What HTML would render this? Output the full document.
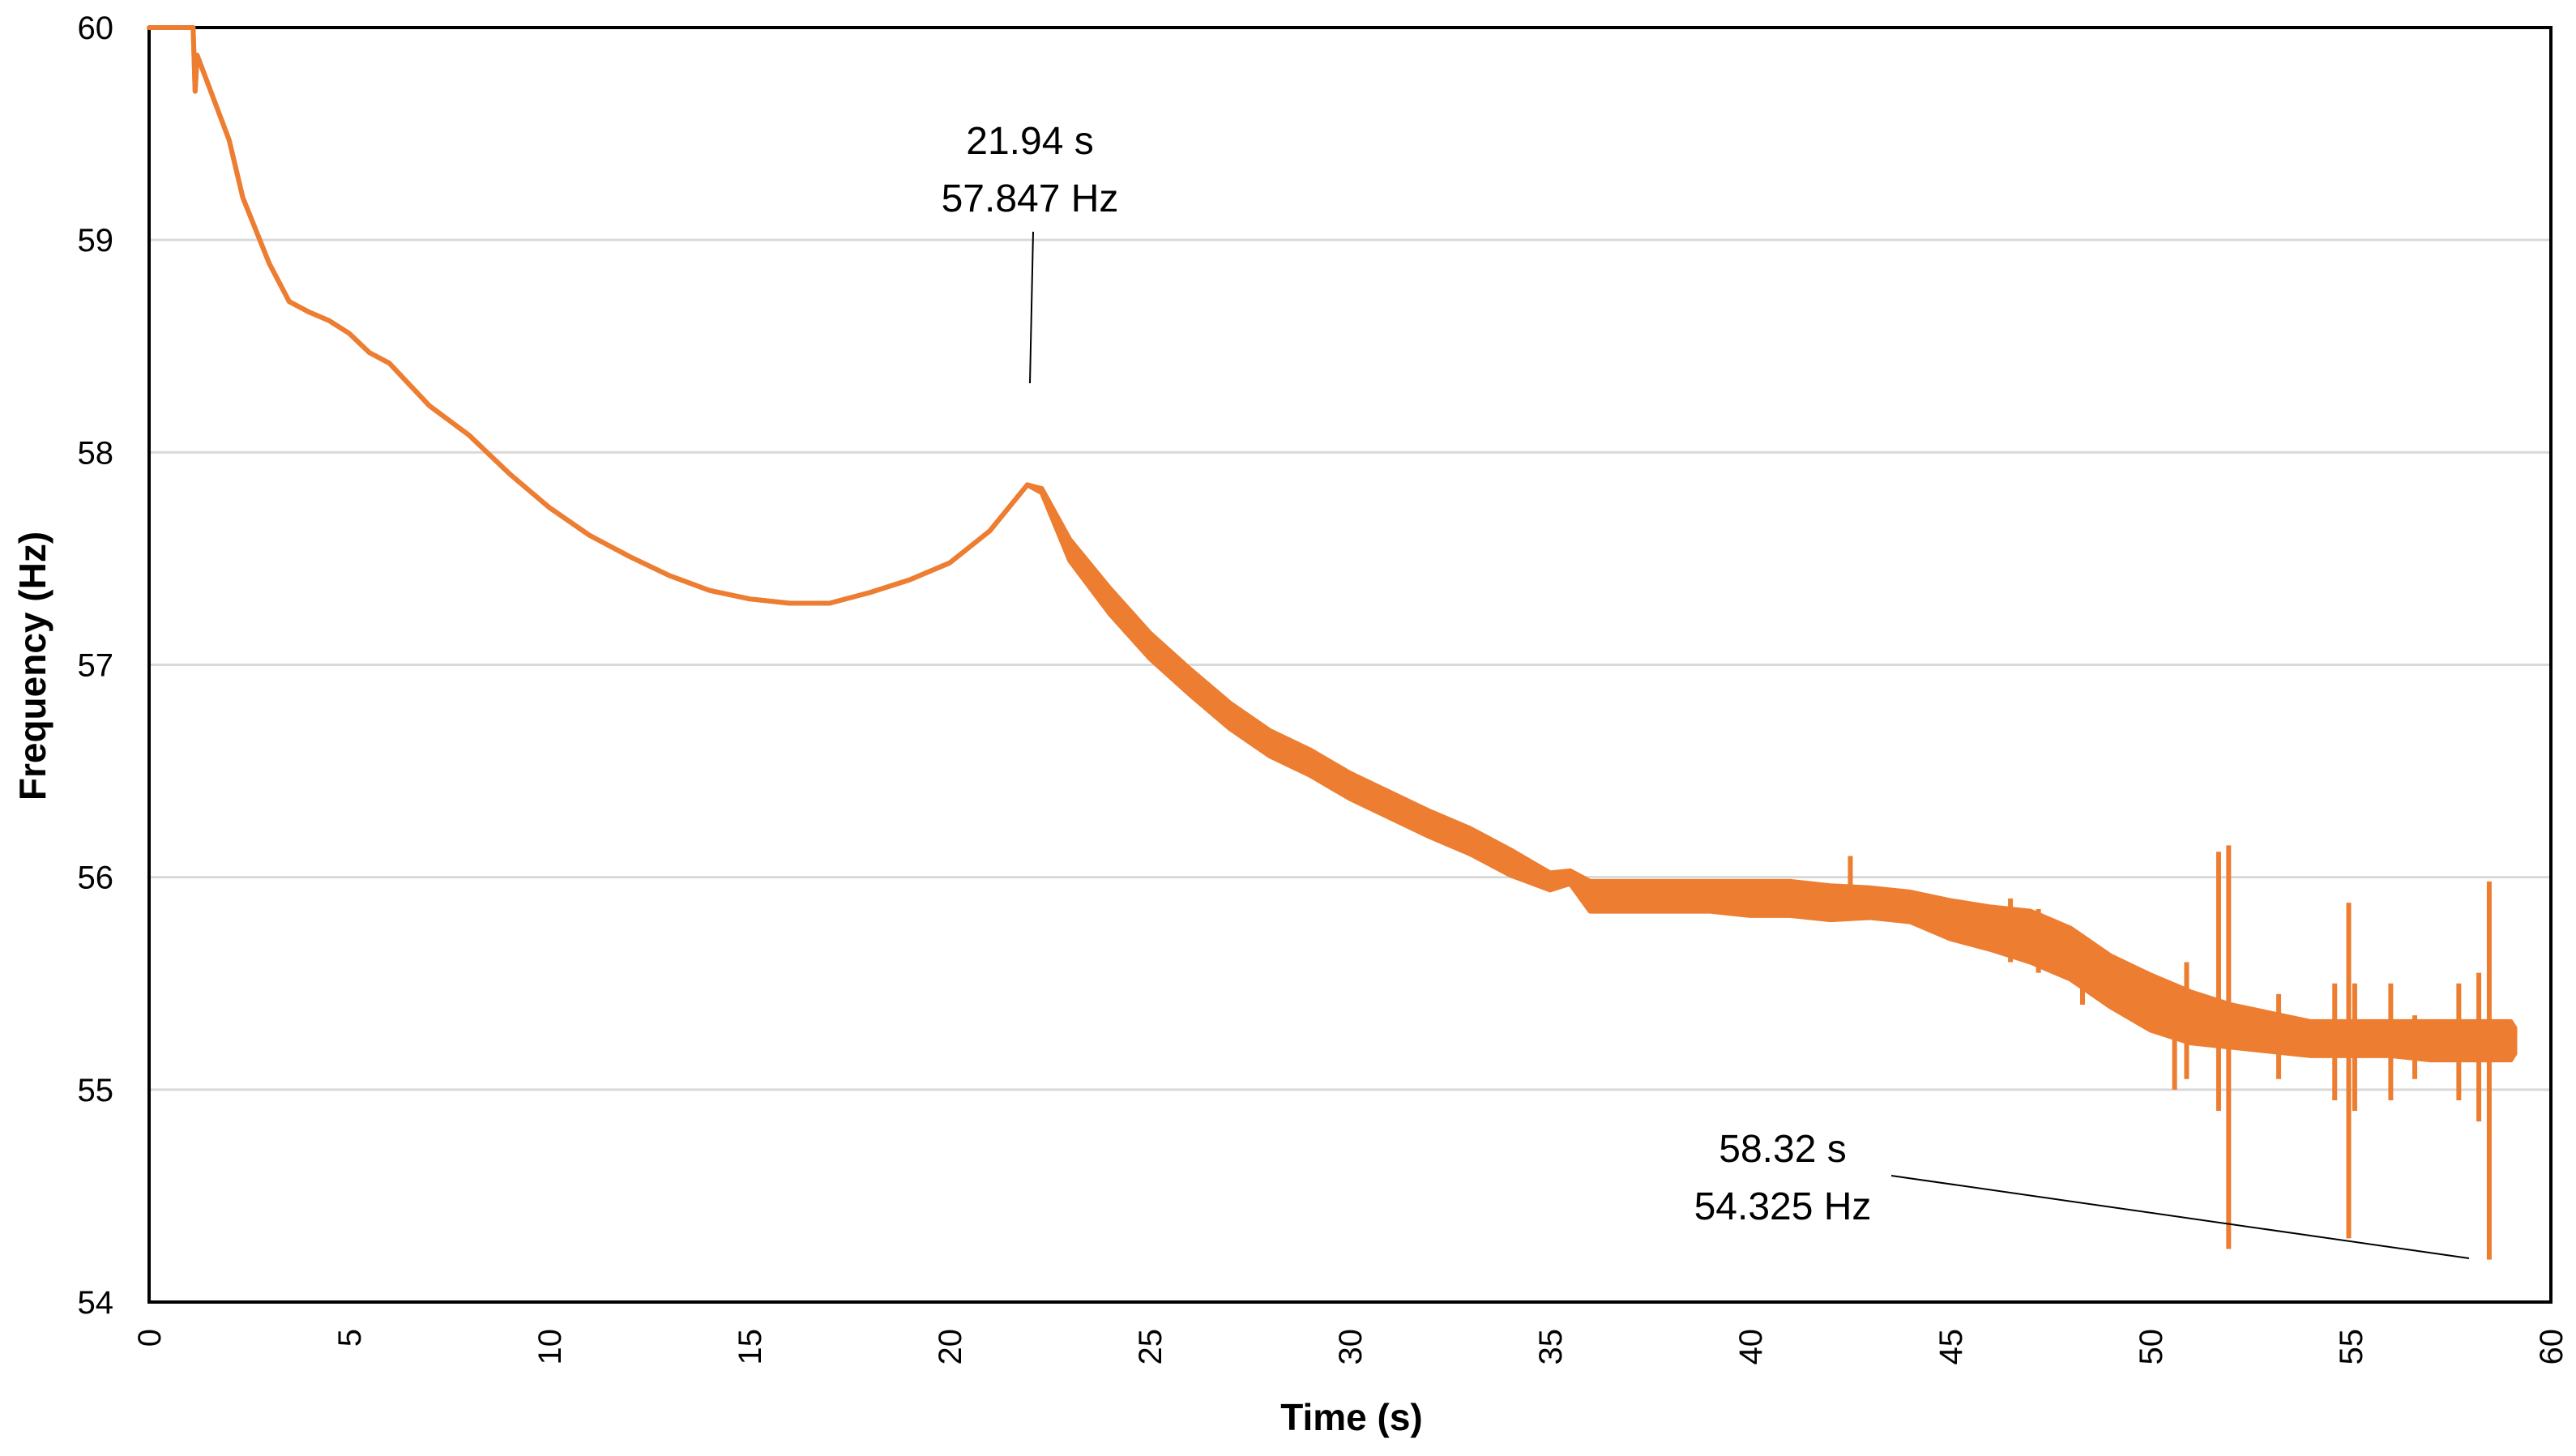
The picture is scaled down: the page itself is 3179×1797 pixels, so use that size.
<!DOCTYPE html>
<html><head><meta charset="utf-8"><style>
html,body{margin:0;padding:0;background:#fff;}
svg{display:block;font-family:"Liberation Sans",Arial,sans-serif;}
</style></head><body>
<svg id="chart" width="3179" height="1797" viewBox="0 0 3179 1797">
<g id="grid"></g>
<rect x="184" y="34" width="2964" height="1573" fill="none" stroke="#000" stroke-width="4"/>
<g id="series"></g>
<g id="yticks"></g>
<g id="xticks"></g>
<text x="1668" y="1765" font-size="46" font-weight="bold" text-anchor="middle">Time (s)</text>
<text transform="translate(56,822) rotate(-90)" font-size="46" font-weight="bold" text-anchor="middle">Frequency (Hz)</text>
<g>
<text x="1271" y="190" font-size="48" text-anchor="middle">21.94 s</text>
<text x="1271" y="261" font-size="48" text-anchor="middle">57.847 Hz</text>
<line x1="1275" y1="286" x2="1271" y2="473" stroke="#000" stroke-width="2"/>
</g>
<g>
<text x="2200" y="1434" font-size="48" text-anchor="middle">58.32 s</text>
<text x="2200" y="1505" font-size="48" text-anchor="middle">54.325 Hz</text>
<line x1="2334" y1="1451" x2="3047" y2="1553" stroke="#000" stroke-width="2"/>
</g>
</svg>
<script>
const yTickLabels = [54,55,56,57,58,59,60];
const xTickLabels = [0,5,10,15,20,25,30,35,40,45,50,55,60];
const times = [0,1.1,1.15,1.2,2,2.34,3,3.5,4,4.5,5,5.5,6,7,8,9,10,11,12,13,14,15,16,17,18,19,20,21,21.94,22.3,23,24,25,26,27,28,29,30,31,32,33,34,35,35.5,36,37,38,39,40,41,42,43,44,45,46,47,48,49,50,51,52,53,54,55,56,57,58,59,59.1];
const freqMid = [60,60,59.7,59.87,59.47,59.2,58.89,58.71,58.66,58.62,58.56,58.47,58.42,58.22,58.08,57.9,57.74,57.61,57.51,57.42,57.35,57.31,57.29,57.29,57.34,57.4,57.48,57.63,57.847,57.82,57.54,57.3,57.09,56.92,56.76,56.63,56.54,56.43,56.34,56.25,56.17,56.07,55.98,56.0,55.91,55.91,55.91,55.91,55.9,55.9,55.88,55.88,55.86,55.8,55.76,55.72,55.64,55.51,55.41,55.34,55.3,55.27,55.24,55.24,55.24,55.23,55.23,55.23,55.23];
const bandHalf = [0,0,0,0,0,0,0,0,0,0,0,0,0,0,0,0,0,0,0,0,0,0,0,0,0,0,0,0,0,0.01,0.05,0.06,0.06,0.06,0.06,0.06,0.06,0.06,0.06,0.06,0.06,0.06,0.04,0.03,0.07,0.07,0.07,0.07,0.08,0.08,0.08,0.07,0.07,0.09,0.1,0.12,0.12,0.12,0.13,0.12,0.1,0.09,0.08,0.08,0.08,0.09,0.09,0.09,0.06];
const spikeTimes = [42.5,46.5,47.2,48.3,50.6,50.9,51.7,51.95,53.2,54.6,54.95,55.1,56.0,56.6,57.7,58.2,58.46];
const spikeLow = [55.85,55.6,55.55,55.4,55.0,55.05,54.9,54.25,55.05,54.95,54.3,54.9,54.95,55.05,54.95,54.85,54.2];
const spikeHigh = [56.1,55.9,55.85,55.7,55.5,55.6,56.12,56.15,55.45,55.5,55.88,55.5,55.5,55.35,55.5,55.55,55.98];

const L=184,R=3148,T=34,B=1607;
const xs=t=>L+(t/60)*(R-L);
const ys=f=>T+((60-f)/6)*(B-T);
const NS="http://www.w3.org/2000/svg";
const mk=(tag,attrs,parent)=>{const e=document.createElementNS(NS,tag);for(const k in attrs)e.setAttribute(k,attrs[k]);parent.appendChild(e);return e;};
const grid=document.getElementById('grid'),yt=document.getElementById('yticks'),xt=document.getElementById('xticks'),ser=document.getElementById('series');
yTickLabels.forEach(v=>{
  const g=mk('line',{x1:L,x2:R,y1:ys(v),y2:ys(v),stroke:'#d9d9d9','stroke-width':3},grid);
  
  
  const tx=mk('text',{x:140,y:ys(v)+14,'font-size':40,'text-anchor':'end'},yt);
  tx.textContent=v;
  
  
});
xTickLabels.forEach(v=>{
  const tx=mk('text',{transform:`translate(${xs(v)+14},1640) rotate(-90)`,'font-size':40,'text-anchor':'end'},xt);
  tx.textContent=v;
  
  
});
let up='',lo='';
times.forEach((t,i)=>{up+=(i?'L':'M')+xs(t).toFixed(1)+','+ys(freqMid[i]+bandHalf[i]).toFixed(1);});
for(let i=times.length-1;i>=0;i--){lo+='L'+xs(times[i]).toFixed(1)+','+ys(freqMid[i]-bandHalf[i]).toFixed(1);}
const band=mk('path',{d:up+lo+'Z',fill:'#ED7D31',stroke:'#ED7D31','stroke-width':6,'stroke-linejoin':'round'},ser);


let ln='';
times.forEach((t,i)=>{ln+=(i?'L':'M')+xs(t).toFixed(1)+','+ys(freqMid[i]).toFixed(1);});
const line=mk('path',{d:ln,fill:'none',stroke:'#ED7D31','stroke-width':6,'stroke-linejoin':'round'},ser);


spikeTimes.forEach((t,i)=>{
  const s=mk('line',{x1:xs(t),x2:xs(t),y1:ys(spikeLow[i]),y2:ys(spikeHigh[i]),stroke:'#ED7D31','stroke-width':6},ser);
  
  
});
</script>
</body></html>
